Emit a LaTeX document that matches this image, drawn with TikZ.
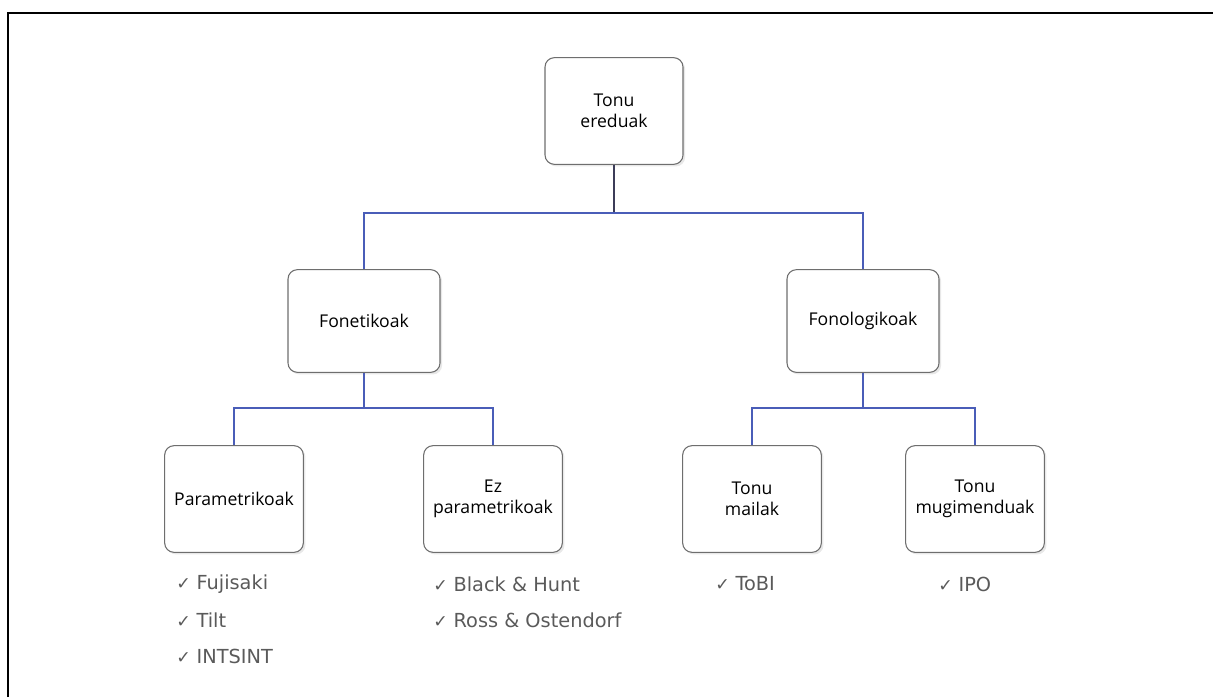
\documentclass[tikz,border=0pt]{standalone}
\usepackage{fontspec}
\setmainfont{Open Sans}
\newfontfamily\listfont{DejaVu Sans}
\usetikzlibrary{shadows}
\definecolor{boxline}{HTML}{6E6E6E}
\definecolor{linkblue}{HTML}{4A5DB8}
\definecolor{stem}{HTML}{3C3C58}
\definecolor{listgray}{HTML}{5A5A5A}
\tikzset{
  px/.style={x=0.75pt,y=-0.75pt},
  catbox/.style={draw=boxline, line width=0.8pt, rounded corners=7pt, fill=white,
    align=center, font=\fontsize{13.2}{16}\selectfont, inner sep=2pt,
    drop shadow={opacity=0.18, shadow xshift=1.6pt, shadow yshift=-1.6pt}},
  rootbox/.style={catbox, minimum width=103.5pt, minimum height=80pt},
  midbox/.style={catbox, minimum width=114pt, minimum height=77pt},
  leafbox/.style={catbox, minimum width=104pt, minimum height=80pt},
  link/.style={draw=linkblue, line width=1.5pt},
  item/.style={anchor=west, inner sep=0pt, text=listgray,
    font=\listfont\fontsize{14.5}{17}\selectfont},
  frameline/.style={draw=black, line width=1.5pt}
}
\newcommand{\tick}{{\fontsize{13}{15}\selectfont\char"2713}\hspace{0.3em}}
\begin{document}
\begin{tikzpicture}[px]
  \useasboundingbox (0,0) rectangle (1213,697);
  % outer frame (top and left edges)
  \draw[frameline] (8,697) -- (8,13) -- (1213,13);

  % tree nodes
  \node[rootbox] (root) at (614,111) {Tonu\\ereduak};
  \node[midbox] (fon) at (364,321) {Fonetikoak};
  \node[midbox] (fonol) at (863,321) {Fonologikoak};
  \node[leafbox] (param) at (234,499) {Parametrikoak};
  \node[leafbox] (ezparam) at (493,499) {Ez\\parametrikoak};
  \node[leafbox] (mailak) at (752,499) {Tonu\\mailak};
  \node[leafbox] (mugi) at (975,499) {Tonu\\mugimenduak};

  % branch points
  \coordinate (b0) at (614,213);
  \coordinate (b1) at (364,408);
  \coordinate (b2) at (863,408);

  % connectors
  \draw[draw=stem, line width=1.5pt] (root.south) -- (b0);
  \draw[link] (fon.north) |- (b0) -| (fonol.north);
  \draw[link] (fon.south) -- (b1);
  \draw[link] (param.north) |- (b1) -| (ezparam.north);
  \draw[link] (fonol.south) -- (b2);
  \draw[link] (mailak.north) |- (b2) -| (mugi.north);

  % model lists
  \node[item] (l1) at (176,584) {\tick Fujisaki};
  \node[item] (l2) at (176,620) {\tick Tilt};
  \node[item] (l3) at (176,656) {\tick INTSINT};
  \node[item] (l4) at (433,584) {\tick Black \& Hunt};
  \node[item] (l5) at (433,620) {\tick Ross \& Ostendorf};
  \node[item] (l6) at (715,584) {\tick ToBI};
  \node[item] (l7) at (938,584) {\tick IPO};
\end{tikzpicture}
\end{document}
